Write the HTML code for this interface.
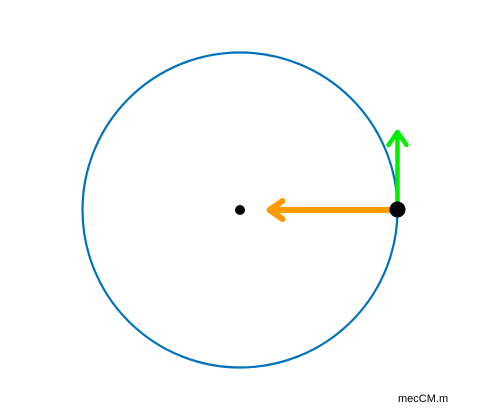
<!DOCTYPE html>
<html><head><meta charset="utf-8"><style>
body{margin:0;background:#fff;width:480px;height:420px;overflow:hidden}
svg{display:block}
</style></head><body>
<svg id="chart" width="480" height="420">
<circle cx="240" cy="210" r="157.5" fill="none" stroke="#0072bd" stroke-width="2.2"/>
<circle cx="240" cy="210" r="5" fill="#000"/>
<g id="arrows"></g>
<circle cx="397.5" cy="209.5" r="8" fill="#000"/>
<text x="398" y="402" font-family="Liberation Sans, sans-serif" font-size="11" fill="#000">mecCM.m</text>
</svg>
<script>
const center=[240,210];
const radius=[157.5];
const particleAngleDeg=[0];
const velocityLen=[78];
const accelLen=[128];
const g=document.getElementById('arrows');
const ns='http://www.w3.org/2000/svg';
const a=particleAngleDeg[0]*Math.PI/180;
const px=center[0]+radius[0]*Math.cos(a), py=center[1]-radius[0]*Math.sin(a);
function arrow(x1,y1,x2,y2,color,w,name){
  const dx=x2-x1,dy=y2-y1,L=Math.hypot(dx,dy),ux=dx/L,uy=dy/L;
  const l=document.createElementNS(ns,'line');
  
  
  l.setAttribute('x1',x1);l.setAttribute('y1',y1);l.setAttribute('x2',x2-ux*2);l.setAttribute('y2',y2-uy*2);
  l.setAttribute('stroke',color);l.setAttribute('stroke-width',w);
  g.appendChild(l);
  const h=document.createElementNS(ns,'polyline');
  
  
  const bx=x2-ux*13,by=y2-uy*13,nx=-uy*9,ny=ux*9;
  h.setAttribute('points',`${bx+nx},${by+ny} ${x2},${y2} ${bx-nx},${by-ny}`);
  h.setAttribute('fill','none');h.setAttribute('stroke',color);h.setAttribute('stroke-width',w);
  h.setAttribute('stroke-linecap','round');h.setAttribute('stroke-linejoin','round');
  g.appendChild(h);
}
arrow(px,py,px-accelLen[0]*Math.cos(a),py+accelLen[0]*Math.sin(a),'#ff9900',6,'acceleration-arrow');
arrow(px,py,px-velocityLen[0]*Math.sin(a),py-velocityLen[0]*Math.cos(a),'#00ee00',4.5,'velocity-arrow');
</script>
</body></html>
